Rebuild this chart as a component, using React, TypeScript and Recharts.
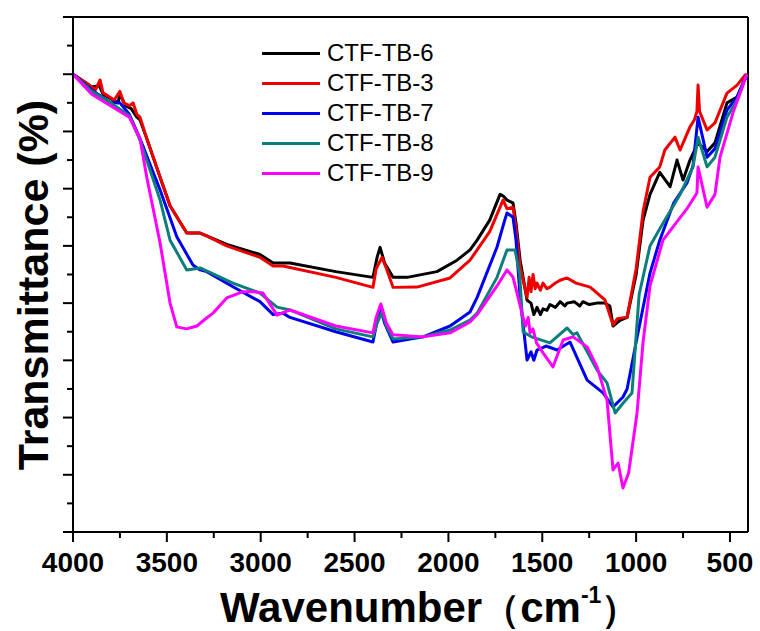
import React from "react";
import { LineChart, Line, XAxis, YAxis, ReferenceLine, Label } from "recharts";

// wavenumber (cm-1) vs transmittance (arb. units, 0..18 tick grid)
const xTicks = [4000, 3750, 3500, 3250, 3000, 2750, 2500, 2250, 2000, 1750, 1500, 1250, 1000, 750, 500];
const yTicks = [0, 1, 2, 3, 4, 5, 6, 7, 8, 9, 10, 11, 12, 13, 14, 15, 16, 17, 18];

const ctfTb6 = [
  [4000, 16.0], [3900, 15.55], [3860, 15.6], [3840, 15.3], [3760, 15.0], [3750, 15.3], [3720, 14.9],
  [3690, 14.8], [3660, 14.5], [3643, 14.4], [3607, 13.75], [3536, 12.4], [3483, 11.4], [3394, 10.45],
  [3323, 10.45], [3288, 10.35], [3181, 10.05], [3004, 9.7], [2934, 9.4], [2881, 9.4], [2844, 9.4],
  [2600, 9.1], [2402, 8.9], [2380, 9.6], [2364, 9.95], [2340, 9.4], [2295, 8.9], [2220, 8.9],
  [2061, 9.1], [1954, 9.5], [1885, 9.86], [1847, 10.2], [1780, 10.9], [1725, 11.8], [1709, 11.75],
  [1688, 11.6], [1656, 11.5], [1640, 10.8], [1618, 9.5], [1581, 8.1], [1560, 8.0], [1545, 7.6],
  [1528, 7.85], [1510, 7.6], [1496, 7.8], [1475, 7.75], [1459, 7.95], [1430, 7.85], [1405, 8.05],
  [1380, 7.9], [1368, 8.0], [1330, 8.05], [1300, 7.9], [1283, 8.05], [1250, 7.95], [1210, 8.0],
  [1166, 8.0], [1140, 7.9], [1123, 7.2], [1086, 7.4], [1048, 7.5], [1000, 9.0], [963, 10.9],
  [926, 11.8], [874, 12.57], [819, 12.07], [782, 13.0], [750, 12.3], [713, 13.0], [670, 13.6],
  [622, 13.3], [580, 13.6], [516, 15.0], [462, 15.2], [410, 16.0],
];

const ctfTb3 = [
  [4000, 16.0], [3930, 15.7], [3880, 15.45], [3856, 15.8], [3840, 15.35], [3780, 15.1], [3750, 15.4],
  [3730, 15.0], [3700, 14.9], [3680, 15.0], [3660, 14.6], [3643, 14.5], [3607, 13.75], [3536, 12.4],
  [3483, 11.4], [3394, 10.45], [3323, 10.45], [3288, 10.35], [3181, 10.0], [3004, 9.6], [2934, 9.3],
  [2881, 9.3], [2600, 8.9], [2402, 8.55], [2385, 9.2], [2354, 9.6], [2330, 9.2], [2295, 8.55],
  [2167, 8.56], [1991, 8.88], [1885, 9.5], [1847, 9.86], [1780, 10.5], [1709, 11.6], [1688, 11.3],
  [1656, 11.35], [1640, 10.6], [1618, 9.26], [1581, 8.2], [1570, 8.9], [1560, 8.4], [1549, 9.0],
  [1538, 8.5], [1528, 8.7], [1510, 8.45], [1496, 8.7], [1475, 8.5], [1459, 8.56], [1430, 8.7],
  [1405, 8.8], [1368, 8.88], [1320, 8.7], [1245, 8.56], [1166, 8.11], [1123, 7.24], [1100, 7.45],
  [1048, 7.51], [1000, 9.2], [963, 11.2], [926, 12.4], [874, 12.76], [847, 13.35], [793, 13.8],
  [766, 13.35], [713, 14.16], [690, 14.4], [676, 14.7], [670, 15.62], [662, 14.7], [622, 14.05],
  [580, 14.3], [516, 15.34], [462, 15.62], [420, 15.97], [410, 16.0],
];

const ctfTb7 = [
  [4000, 16.0], [3900, 15.45], [3800, 15.0], [3750, 15.0], [3700, 14.6], [3643, 13.75], [3536, 11.95],
  [3447, 10.32], [3361, 9.33], [3323, 9.16], [3288, 9.1], [3148, 8.57], [3004, 8.05], [2934, 7.6],
  [2881, 7.65], [2844, 7.5], [2600, 7.0], [2402, 6.64], [2385, 7.2], [2364, 7.86], [2340, 7.3],
  [2295, 6.64], [2135, 6.82], [1991, 7.2], [1885, 7.69], [1847, 8.2], [1741, 9.96], [1700, 10.9],
  [1688, 11.15], [1656, 11.0], [1640, 10.2], [1618, 8.21], [1581, 6.01], [1560, 6.3], [1545, 6.0],
  [1528, 6.36], [1480, 6.5], [1421, 6.36], [1352, 6.64], [1261, 5.31], [1176, 4.86], [1123, 4.37],
  [1070, 4.72], [1048, 5.0], [995, 6.8], [926, 9.05], [874, 10.2], [800, 11.5], [729, 12.2],
  [697, 12.8], [670, 14.5], [622, 13.1], [580, 13.4], [516, 14.75], [462, 15.2], [410, 16.0],
];

const ctfTb8 = [
  [4000, 16.0], [3900, 15.4], [3800, 15.0], [3700, 14.55], [3643, 13.7], [3536, 11.6], [3483, 10.2],
  [3394, 9.16], [3323, 9.23], [3148, 8.7], [3004, 8.35], [2913, 7.86], [2844, 7.76], [2600, 7.1],
  [2402, 6.82], [2380, 7.3], [2354, 7.69], [2330, 7.2], [2295, 6.75], [2135, 6.82], [1991, 7.06],
  [1885, 7.41], [1847, 7.65], [1741, 8.9], [1688, 9.86], [1645, 9.86], [1620, 9.0], [1602, 6.99],
  [1550, 6.8], [1459, 6.61], [1368, 7.13], [1336, 6.9], [1315, 6.96], [1208, 5.66], [1155, 5.21],
  [1112, 4.16], [1070, 4.5], [1022, 4.86], [984, 8.3], [926, 10.0], [874, 10.6], [766, 11.8],
  [697, 12.76], [670, 13.8], [622, 12.76], [580, 13.1], [516, 14.5], [462, 15.1], [410, 16.0],
];

const ctfTb9 = [
  [4000, 16.0], [3900, 15.3], [3800, 14.9], [3700, 14.5], [3643, 13.75], [3607, 12.4], [3536, 10.1],
  [3483, 8.0], [3447, 7.17], [3394, 7.1], [3340, 7.2], [3288, 7.48], [3254, 7.65], [3181, 8.18],
  [3094, 8.4], [3041, 8.4], [2988, 8.35], [2913, 7.58], [2844, 7.76], [2600, 7.2], [2402, 6.96],
  [2385, 7.5], [2360, 7.97], [2330, 7.3], [2295, 6.89], [2135, 6.82], [1991, 6.96], [1885, 7.34],
  [1847, 7.6], [1741, 8.6], [1688, 9.16], [1656, 8.91], [1640, 8.5], [1608, 7.65], [1590, 7.2],
  [1575, 7.5], [1565, 6.96], [1550, 7.1], [1530, 6.6], [1496, 6.26], [1443, 5.77], [1389, 6.71],
  [1336, 6.82], [1261, 6.47], [1208, 5.77], [1155, 4.61], [1123, 2.17], [1096, 2.41], [1070, 1.54],
  [1040, 2.06], [995, 4.16], [963, 6.64], [926, 8.6], [857, 10.2], [729, 11.3], [676, 11.85],
  [670, 12.76], [622, 11.35], [580, 11.8], [553, 13.1], [484, 14.65], [410, 16.0],
];

const series = [
  { name: "CTF-TB-6", color: "#000000", data: ctfTb6 },
  { name: "CTF-TB-3", color: "#ee0000", data: ctfTb3 },
  { name: "CTF-TB-7", color: "#0000ee", data: ctfTb7 },
  { name: "CTF-TB-8", color: "#0c7f7a", data: ctfTb8 },
  { name: "CTF-TB-9", color: "#ff00ff", data: ctfTb9 },
];

const font = "'Liberation Sans', Arial, sans-serif";

const XTick = (props: any) => {
  const { x, y, payload } = props;
  const major = payload.value % 500 === 0;
  return (
    <g>
      <line x1={x} x2={x} y1={y} y2={y + (major ? 10 : 6)} stroke="#000" strokeWidth={2} />
      {major && (
        <text x={x} y={y + 40} textAnchor="middle" fontFamily={font} fontWeight="bold" fontSize={28} fill="#000">
          {payload.value}
        </text>
      )}
    </g>
  );
};

const YTick = (props: any) => {
  const { x, y, payload } = props;
  const major = payload.value % 2 === 0;
  return <line x1={x - (major ? 10 : 6)} x2={x} y1={y} y2={y} stroke="#000" strokeWidth={2} />;
};

export default function App() {
  return (
    <div style={{ position: "absolute", left: 0, top: 0, width: 760, height: 631, background: "#fff" }}>
      <LineChart width={760} height={631} margin={{ top: 17, right: 12, left: 72, bottom: 98 }}>
        <XAxis
          dataKey="w"
          type="number"
          domain={[404, 4000]}
          reversed
          allowDataOverflow
          ticks={xTicks}
          interval={0}
          height={1}
          tickSize={0}
          tickMargin={0}
          tickLine={false}
          tick={<XTick />}
          axisLine={{ stroke: "#000", strokeWidth: 2 }}
        >
          <Label
            content={() => (
              <text x={220} y={622} fontFamily={font} fontWeight="bold" fontSize={42} fill="#000">
                Wavenumber<tspan fontSize={38}>（</tspan>cm
                <tspan dy={-19} fontSize={23}>-1</tspan>
                <tspan dy={19} fontSize={38}>）</tspan>
              </text>
            )}
          />
        </XAxis>
        <YAxis
          type="number"
          domain={[0, 18]}
          allowDataOverflow
          ticks={yTicks}
          interval={0}
          width={1}
          tickSize={0}
          tickMargin={0}
          tickLine={false}
          tick={<YTick />}
          axisLine={{ stroke: "#000", strokeWidth: 2 }}
        >
          <Label
            content={() => (
              <text
                transform="translate(48, 285) rotate(-90)"
                textAnchor="middle"
                fontFamily={font}
                fontWeight="bold"
                fontSize={43}
                fill="#000"
              >
                Transmittance (%)
              </text>
            )}
          />
        </YAxis>
        <ReferenceLine y={18} stroke="#000" strokeWidth={2} ifOverflow="visible" />
        <ReferenceLine x={404} stroke="#000" strokeWidth={2} ifOverflow="visible" />
        {series.map((s) => (
          <Line
            key={s.name}
            name={s.name}
            data={s.data.map(([w, t]) => ({ w, t }))}
            dataKey="t"
            type="linear"
            stroke={s.color}
            strokeWidth={3}
            strokeLinejoin="round"
            dot={false}
            activeDot={false}
            isAnimationActive={false}
          />
        ))}
      </LineChart>
      <div style={{ position: "absolute", left: 262, top: 38, fontFamily: font, fontSize: 24, color: "#000" }}>
        {series.map((s) => (
          <div key={s.name} style={{ display: "flex", alignItems: "center", height: 30 }}>
            <div style={{ width: 58, height: 3, background: s.color, marginRight: 7 }} />
            <span>{s.name}</span>
          </div>
        ))}
      </div>
    </div>
  );
}
